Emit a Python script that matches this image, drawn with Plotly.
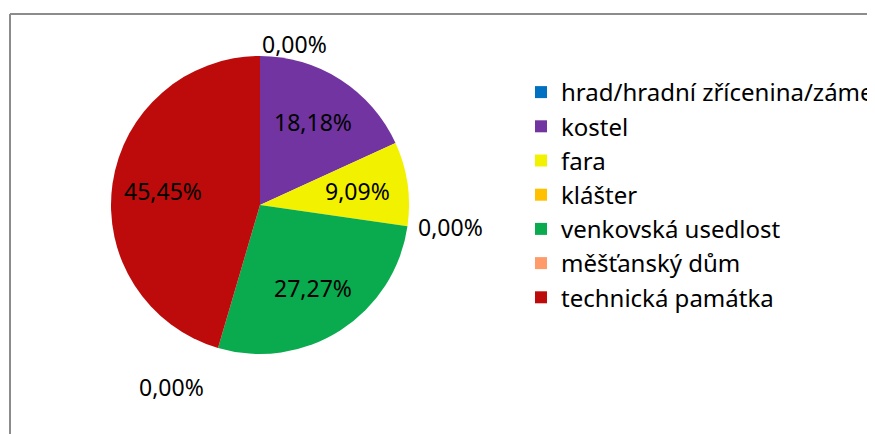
import math
import plotly.graph_objects as go

# kategorie a hodnoty (počet objektů)
labels = ["hrad/hradní zřícenina/zámek", "kostel", "fara", "klášter",
          "venkovská usedlost", "měšťanský dům", "technická památka"]
values = [0, 2, 1, 0, 3, 0, 5]
colors = ["#0070C0", "#7134A0", "#F2F200", "#FFC000",
          "#0AAA4E", "#FF9B6B", "#BD0B0B"]

# page body has an 8px margin; work in window pixels shifted by OFF
OFF = 8
W, H = 875 - OFF, 434 - OFF
cx, cy, r = 260 - OFF, 205 - OFF, 149   # pie centre / radius in px

total = sum(values)
pct = [v / total * 100 for v in values]
txt = [("%.2f" % p).replace(".", ",") + "%" for p in pct]

fig = go.Figure()
fig.add_trace(go.Pie(
    labels=labels,
    values=values,
    textinfo="none",
    marker=dict(colors=colors, line=dict(width=0)),
    sort=False,
    direction="clockwise",
    rotation=0,
    hoverinfo="label+percent",
    domain=dict(x=[(cx - r) / W, (cx + r) / W],
                y=[(H - cy - r) / H, (H - cy + r) / H]),
))


def ann(t, d, th, xa):
    return dict(
        x=(cx + d * math.sin(th)) / W, y=1 - (cy - d * math.cos(th)) / H,
        xref="paper", yref="paper", text=t, showarrow=False,
        xanchor=xa, yanchor="middle",
        font=dict(family="Noto Sans", size=23, color="#000000"),
    )


# data labels: inside at the slice middle, empty slices outside the rim
annotations = []
cum = 0
for v, t in zip(values, txt):
    if v > 0:
        th = math.radians((cum + v / 2) / total * 360)
        annotations.append(ann(t, 0.66 * r, th, "center"))
    else:
        th = math.radians(cum / total * 360)
        d = 1.08 * r - 8 * abs(math.sin(th)) + 0.22 * r * max(0, -math.cos(th))
        annotations.append(ann(t, d, th, "left" if math.sin(th) >= 0 else "right"))
    cum += v

# cut-off heading above the chart frame
annotations.append(dict(
    x=0, y=1 - 2 / H, xref="paper", yref="paper", text="2008–2010",
    showarrow=False, xanchor="left", yanchor="bottom",
    font=dict(family="Liberation Serif", size=24, color="#000000"),
))

fig.update_layout(
    width=W, height=H,
    margin=dict(l=0, r=0, t=0, b=0, autoexpand=False),
    paper_bgcolor="white",
    font=dict(family="Noto Sans", size=23, color="#000000"),
    showlegend=True,
    legend=dict(x=(521 - OFF) / W, y=1 - (70 - OFF) / H,
                xanchor="left", yanchor="top",
                font=dict(family="Noto Sans", size=24),
                bgcolor="rgba(0,0,0,0)", traceorder="normal"),
    annotations=annotations,
    shapes=[
        dict(type="line", xref="paper", yref="paper",
             x0=(10 - OFF) / W, x1=(10 - OFF) / W,
             y0=0, y1=1 - (14 - OFF) / H,
             line=dict(color="#8C8C8C", width=2)),
        dict(type="line", xref="paper", yref="paper",
             x0=(10 - OFF) / W, x1=1,
             y0=1 - (14 - OFF) / H, y1=1 - (14 - OFF) / H,
             line=dict(color="#8C8C8C", width=2)),
    ],
)

fig.write_html("out.html")
